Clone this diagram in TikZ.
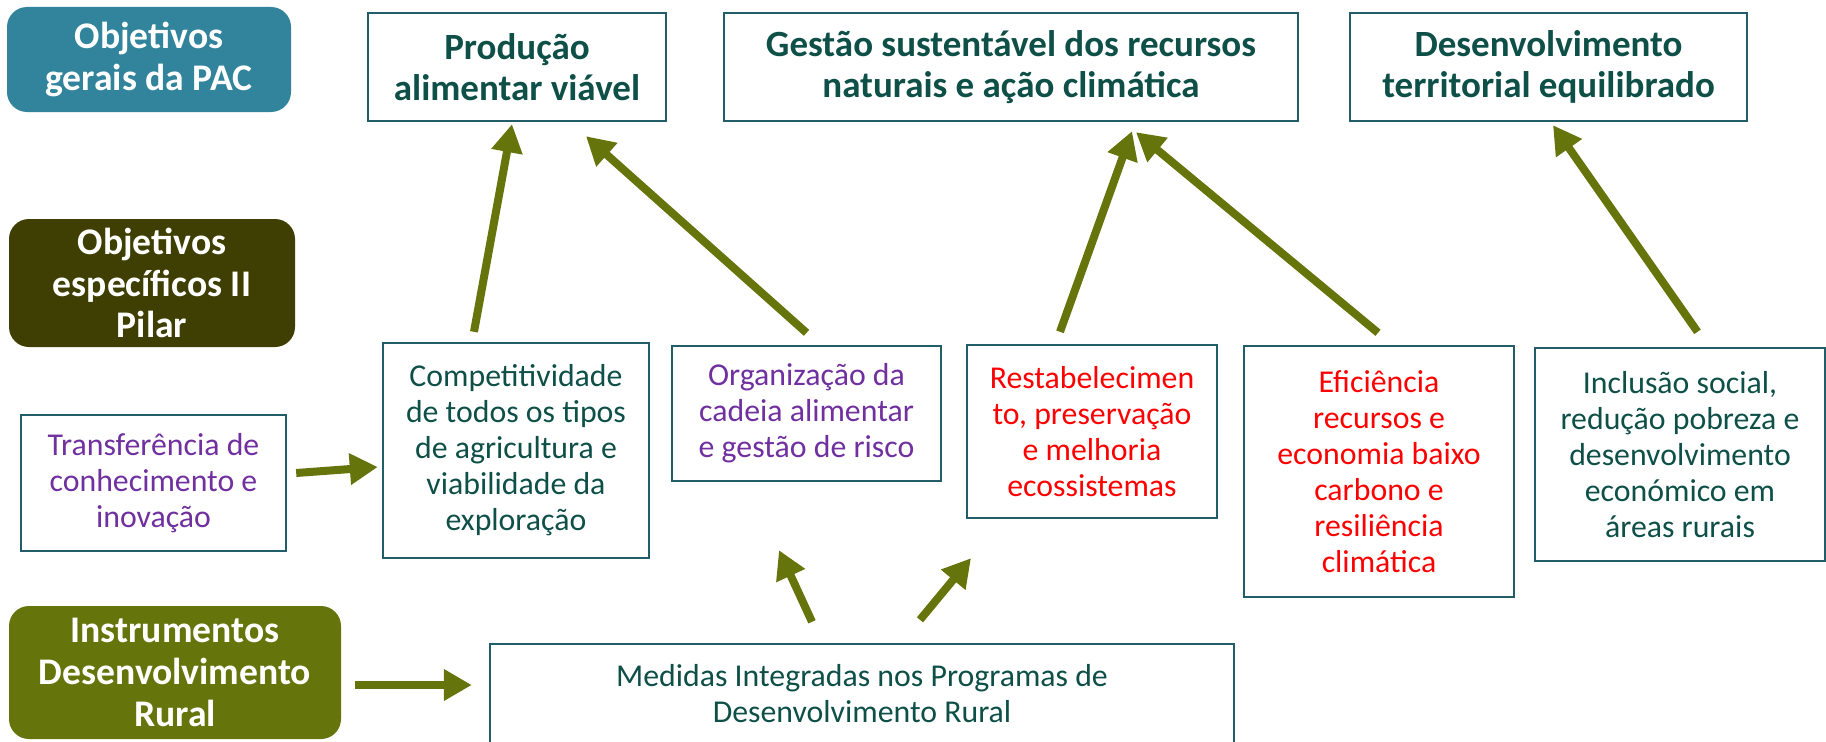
\documentclass[tikz,border=0pt]{standalone}
\usepackage{fontspec}
\setmainfont{Carlito}
\usetikzlibrary{calc,positioning,arrows.meta}
\definecolor{pacteal}{HTML}{31849B}
\definecolor{pilardark}{HTML}{403F03}
\definecolor{ruralolive}{HTML}{66750B}
\definecolor{boxline}{HTML}{215E6A}
\definecolor{boxtext}{HTML}{0E5048}
\definecolor{roxo}{HTML}{7030A0}
\definecolor{vermelho}{HTML}{FF0000}

\begin{document}
\begin{tikzpicture}[x=0.5pt,y=0.5pt]
  \clip (0,0) rectangle (1826,741);
  \fill[white] (0,0) rectangle (1826,741);

  \tikzstyle{lnode} = [rectangle, rounded corners = 10pt, inner sep = 0pt, align=center, text=white,
                       font=\fontsize{18.8}{20.9}\selectfont\bfseries]
  \tikzstyle{onode} = [rectangle, draw=boxline, line width=1.2pt, inner sep = 0pt, align=center, text=boxtext,
                       font=\fontsize{18.5}{20.5}\selectfont\bfseries]
  \tikzstyle{snode} = [rectangle, draw=boxline, line width=1.2pt, inner sep = 0pt, align=center, text=boxtext,
                       font=\fontsize{15.9}{18}\selectfont]
  \tikzstyle{bigarrow} = [draw=ruralolive, fill=ruralolive, line width=4pt, -{Triangle[width=15pt,length=14pt]}]

  % left column
  \node[lnode, fill=pacteal, minimum width=142pt, minimum height=52.5pt] (gerais) at (149,681.5) {Objetivos\\gerais da PAC};
  \node[lnode, fill=pilardark, minimum width=143pt, minimum height=64pt] (especificos) at (152,458) {Objetivos\\específicos II\\Pilar};
  \node[lnode, fill=ruralolive, minimum width=166pt, minimum height=66.5pt] (instrumentos) at (175,68.5) {Instrumentos\\Desenvolvimento\\Rural};

  % objetivos gerais
  \node[onode, minimum width=149pt, minimum height=54pt] (producao) at (517,674) {Produção\\alimentar viável};
  \node[onode, minimum width=287pt, minimum height=54pt] (gestao) at (1011,674) {Gestão sustentável dos recursos\\naturais e ação climática};
  \node[onode, minimum width=198.5pt, minimum height=54pt] (territorial) at (1548.5,674) {Desenvolvimento\\territorial equilibrado};

  % objetivos especificos
  \node[snode, text=roxo, minimum width=132.5pt, minimum height=68pt] (transferencia) at (153.5,258) {Transferência de\\conhecimento e\\inovação};
  \node[snode, minimum width=133pt, minimum height=107.5pt] (competitividade) at (516,290.5) {Competitividade\\de todos os tipos\\de agricultura e\\viabilidade da\\exploração};
  \node[snode, text=roxo, minimum width=134.5pt, minimum height=67.5pt] (organizacao) at (806.5,327.5) {Organização da\\cadeia alimentar\\e gestão de risco};
  \node[snode, text=vermelho, minimum width=125pt, minimum height=86.5pt] (restabelecimento) at (1092,309.5) {Restabelecimen\\to, preservação\\e melhoria\\ecossistemas};
  \node[snode, text=vermelho, minimum width=135pt, minimum height=125.5pt] (eficiencia) at (1379,269.5) {Eficiência\\recursos e\\economia baixo\\carbono e\\resiliência\\climática};
  \node[snode, minimum width=145pt, minimum height=106.5pt] (inclusao) at (1680,286.5) {Inclusão social,\\redução pobreza e\\desenvolvimento\\económico em\\áreas rurais};

  % instrumentos
  \node[snode, minimum width=372pt, minimum height=50pt] (medidas) at (862,47) {Medidas Integradas nos Programas de\\Desenvolvimento Rural};

  % setas
  \draw[bigarrow] ($(competitividade.north)+(-42,10)$) -- ($(producao.south)+(-5,-2)$);
  \draw[bigarrow] ($(organizacao.north)+(0,12)$) -- ($(producao.south)+(69,-14)$);
  \draw[bigarrow] ($(restabelecimento.north)+(-32,12)$) -- ($(gestao.south)+(121,-9)$);
  \draw[bigarrow] ($(eficiencia.north)+(-1,12)$) -- ($(gestao.south)+(125,-10)$);
  \draw[bigarrow] ($(inclusao.north)+(17.5,15)$) -- ($(territorial.south)+(4.5,-3)$);
  \draw[bigarrow] ($(transferencia.east)+(9,10)$) -- ($(competitividade.west)+(-4,-16.5)$);
  \draw[bigarrow] ($(instrumentos.east)+(14,-12.5)$) -- ($(medidas.west)+(-17,9)$);
  \draw[bigarrow] ($(medidas.north)+(-50,21)$) -- ($(organizacao.south)+(-27.5,-68)$);
  \draw[bigarrow] ($(medidas.north)+(58,23)$) -- ($(restabelecimento.south)+(-121,-39)$);
\end{tikzpicture}
\end{document}
